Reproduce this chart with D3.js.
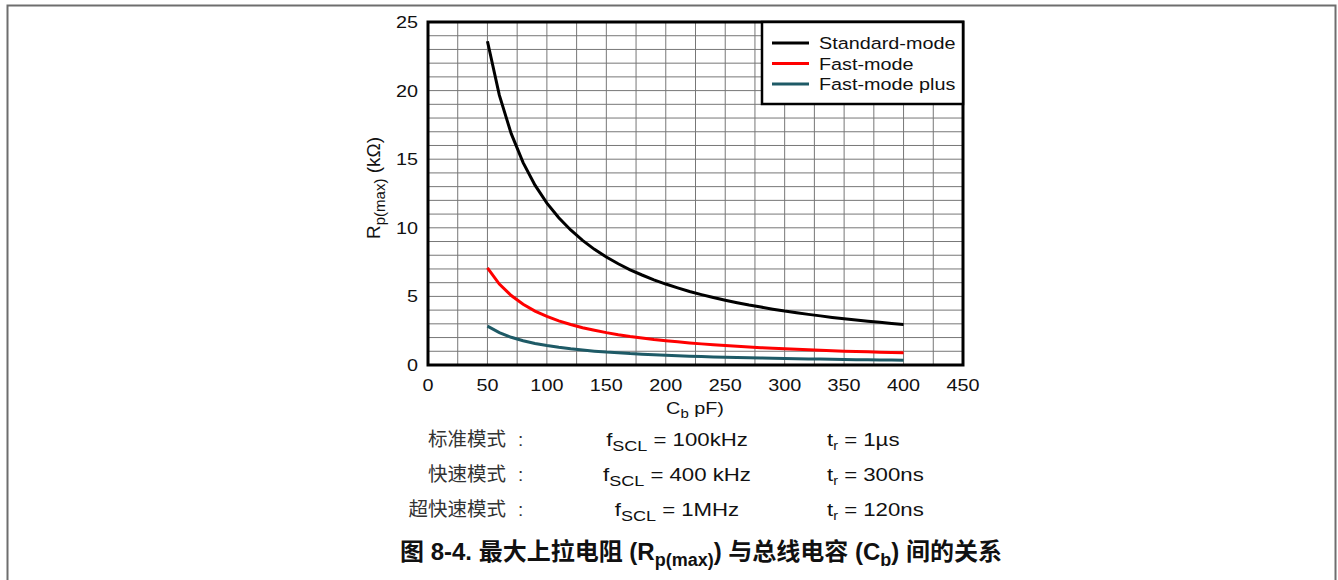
<!DOCTYPE html>
<html>
<head>
<meta charset="utf-8">
<script src="https://cdn.jsdelivr.net/npm/d3@7"></script>
<style>
    body { margin: 0; background: #fff; }
    text { font-family: "Liberation Sans", Arial, sans-serif; fill: #111; }
    .cjk { font-family: "Liberation Sans", "Noto Sans CJK SC", sans-serif; }
</style>
</head>
<body>
<div id="chart"></div>
<script>
// bus capacitance (pF)
const capacitance = [50, 60, 70, 80, 90, 100, 110, 120, 130, 140, 150, 160, 170, 180, 190, 200, 210, 220,
    230, 240, 250, 260, 270, 280, 290, 300, 310, 320, 330, 340, 350, 360, 370, 380, 390, 400];

// Rp(max) in kOhm
const standardMode = [23.6, 19.67, 16.86, 14.75, 13.11, 11.8, 10.73, 9.84, 9.08, 8.43, 7.87, 7.38, 6.94, 6.56,
    6.21, 5.9, 5.62, 5.36, 5.13, 4.92, 4.72, 4.54, 4.37, 4.22, 4.07, 3.93, 3.81, 3.69, 3.58, 3.47, 3.37,
    3.28, 3.19, 3.11, 3.03, 2.95];
const fastMode = [7.08, 5.9, 5.06, 4.43, 3.93, 3.54, 3.22, 2.95, 2.72, 2.53, 2.36, 2.21, 2.08, 1.97, 1.86,
    1.77, 1.69, 1.61, 1.54, 1.48, 1.42, 1.36, 1.31, 1.26, 1.22, 1.18, 1.14, 1.11, 1.07, 1.04, 1.01, 0.98,
    0.96, 0.93, 0.91, 0.89];
const fastModePlus = [2.83, 2.36, 2.02, 1.77, 1.57, 1.42, 1.29, 1.18, 1.09, 1.01, 0.94, 0.89, 0.83, 0.79,
    0.75, 0.71, 0.67, 0.64, 0.62, 0.59, 0.57, 0.54, 0.52, 0.51, 0.49, 0.47, 0.46, 0.44, 0.43, 0.42, 0.4,
    0.39, 0.38, 0.37, 0.36, 0.35];

const seriesNames = ["Standard-mode", "Fast-mode", "Fast-mode plus"];
const seriesColors = ["#000000", "#ff0000", "#1e5a66"];

const xTicks = [0, 50, 100, 150, 200, 250, 300, 350, 400, 450];
const yTicks = [0, 5, 10, 15, 20, 25];

const modeLabels = ["标准模式", "快速模式", "超快速模式"];
const freqValues = ["100kHz", "400 kHz", "1MHz"];
const riseValues = ["1µs", "300ns", "120ns"];

const W = 1338, H = 580;
const margin = {top: 22, right: 375, bottom: 215, left: 428};
const width = W - margin.left - margin.right,
    height = H - margin.top - margin.bottom;

// the latin text in the figure is drawn a bit wide
const SX = 1.2;

const svg = d3.select("#chart").append("svg")
    .attr("width", W)
    .attr("height", H);

function wideText(parent, px, py) {
    return parent.append("text")
        .attr("transform", "translate(" + px + "," + py + ") scale(" + SX + ",1)");
}

// outer frame
svg.append("rect")
    .attr("x", 7.5).attr("y", 5.5)
    .attr("width", 1328).attr("height", 600)
    .attr("fill", "none")
    .attr("stroke", "#6e6e6e")
    .attr("stroke-width", 2);

const g = svg.append("g")
    .attr("transform", "translate(" + margin.left + "," + margin.top + ")");

const x = d3.scaleLinear().domain([0, 450]).range([0, width]);
const y = d3.scaleLinear().domain([0, 25]).range([height, 0]);

// grid
g.append("g")
    .selectAll("line")
    .data(d3.range(25, 450, 25))
    .enter().append("line")
    .attr("x1", d => x(d)).attr("x2", d => x(d))
    .attr("y1", 0).attr("y2", height)
    .attr("stroke", "#777").attr("stroke-width", 1);

g.append("g")
    .selectAll("line")
    .data(d3.range(1, 25, 1))
    .enter().append("line")
    .attr("x1", 0).attr("x2", width)
    .attr("y1", d => y(d)).attr("y2", d => y(d))
    .attr("stroke", "#777").attr("stroke-width", 1);

// curves
const line = d3.line()
    .x((d, i) => x(capacitance[i]))
    .y(d => y(d));

[standardMode, fastMode, fastModePlus].forEach((s, i) => {
    g.append("path")
        .datum(s)
        .attr("d", line)
        .attr("fill", "none")
        .attr("stroke", seriesColors[i])
        .attr("stroke-width", 3);
});

// plot border
g.append("rect")
    .attr("width", width).attr("height", height)
    .attr("fill", "none")
    .attr("stroke", "#000")
    .attr("stroke-width", 3);

// tick labels
xTicks.forEach(d => {
    wideText(g, x(d), height + 26)
        .attr("text-anchor", "middle")
        .style("font-size", "16.5px")
        .text(d);
});

yTicks.forEach(d => {
    wideText(g, -10, y(d) + 6)
        .attr("text-anchor", "end")
        .style("font-size", "16.5px")
        .text(d);
});

// axis titles
let xl = wideText(g, 267, height + 49)
    .attr("text-anchor", "middle")
    .style("font-size", "16.5px");
xl.append("tspan").text("C");
xl.append("tspan").attr("dy", 4).style("font-size", "12.5px").text("b");
xl.append("tspan").attr("dy", -4).text(" pF)");

let yl = g.append("text")
    .attr("transform", "translate(-48," + (188 - margin.top) + ") rotate(-90)")
    .attr("text-anchor", "middle")
    .style("font-size", "19px");
yl.append("tspan").text("R");
yl.append("tspan").attr("dy", 5).style("font-size", "15px").text("p(max)");
yl.append("tspan").attr("dy", -5).text(" (kΩ)");

// legend
const lg = g.append("g")
    .attr("transform", "translate(" + (width - 201) + ",0)");
lg.append("rect")
    .attr("width", 201).attr("height", 82)
    .attr("fill", "#fff")
    .attr("stroke", "#000")
    .attr("stroke-width", 2.5);
seriesNames.forEach((name, i) => {
    lg.append("line")
        .attr("x1", 10).attr("x2", 47)
        .attr("y1", 21 + i * 20.5).attr("y2", 21 + i * 20.5)
        .attr("stroke", seriesColors[i])
        .attr("stroke-width", 3);
    wideText(lg, 57, 27 + i * 20.5)
        .style("font-size", "16.5px")
        .text(name);
});

// conditions table
modeLabels.forEach((m, i) => {
    let yy = 446 + i * 35;
    svg.append("text")
        .attr("class", "cjk")
        .attr("x", 506).attr("y", yy)
        .attr("text-anchor", "end")
        .style("font-size", "19.5px")
        .style("fill", "#333")
        .text(m);
    svg.append("text")
        .attr("x", 518).attr("y", yy)
        .style("font-size", "19px")
        .style("fill", "#333")
        .text(":");

    let f = wideText(svg, 677, yy)
        .attr("text-anchor", "middle")
        .style("font-size", "18.5px");
    f.append("tspan").text("f");
    f.append("tspan").attr("dy", 5).style("font-size", "15px").text("SCL");
    f.append("tspan").attr("dy", -5).text(" = " + freqValues[i]);

    let t = wideText(svg, 827, yy)
        .style("font-size", "18.5px");
    t.append("tspan").text("t");
    t.append("tspan").attr("dy", 4).style("font-size", "12px").text("r");
    t.append("tspan").attr("dy", -4).text(" = " + riseValues[i]);
});

// caption
let cap = svg.append("text")
    .attr("class", "cjk")
    .attr("x", 701).attr("y", 560)
    .attr("text-anchor", "middle")
    .style("font-size", "24px")
    .style("font-weight", "bold");
cap.append("tspan").text("图 8-4. 最大上拉电阻 (R");
cap.append("tspan").attr("dy", 6).style("font-size", "18px").text("p(max)");
cap.append("tspan").attr("dy", -6).text(") 与总线电容 (C");
cap.append("tspan").attr("dy", 6).style("font-size", "18px").text("b");
cap.append("tspan").attr("dy", -6).text(") 间的关系");
</script>
</body>
</html>
